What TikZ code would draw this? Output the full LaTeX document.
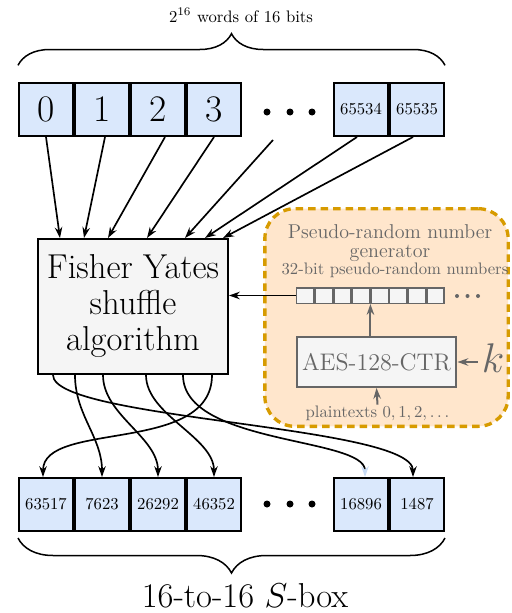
\documentclass[tikz,border=0pt]{standalone}
\usetikzlibrary{positioning,calc,arrows.meta,decorations.pathreplacing}
\definecolor{wordblue}{HTML}{DAE8FC}
\definecolor{tipblue}{HTML}{C8DCF6}
\definecolor{algogray}{HTML}{F5F5F5}
\definecolor{prngfill}{HTML}{FFE6CC}
\definecolor{prngline}{HTML}{D79B00}
\definecolor{prngtext}{HTML}{666666}
\tikzset{
	word/.style={draw,line width=1.2pt,fill=wordblue,minimum width=32.4pt,minimum height=31.8pt,inner sep=0pt},
	bigword/.style={word,font=\fontsize{22.5}{26}\selectfont},
	cell/.style={draw=prngtext,line width=0.9pt,fill=algogray,minimum width=10.3pt,minimum height=9.3pt,inner sep=0pt},
	greytext/.style={text=prngtext,inner sep=0pt},
	curly/.style={line width=0.9pt,decorate,decoration={brace,amplitude=#1}}
}
\begin{document}
\begin{tikzpicture}[x=0.6pt,y=-0.6pt,>={Stealth[length=6.5pt,width=4.5pt]},line width=1pt]
	\useasboundingbox (0,0) rectangle (511,613);
	% generator region
	\node[draw=prngline,fill=prngfill,line width=2pt,dash pattern=on 4.5pt off 3pt,rounded corners=18pt,minimum width=146pt,minimum height=130.6pt] (prng) at (386.5,317.5) {};
	\node[greytext,align=center,font=\fontsize{12}{11}\selectfont] (prngtitle) at (390,243) {Pseudo-random number\\generator};
	\node[greytext,anchor=base] (numlabel) at (395,274) {32-bit pseudo-random numbers};
	\foreach \i in {0,...,7}{\node[cell] (s\i) at (305.3+18.6*\i,295.5) {};}
	\foreach \x in {457,467.5,478}{\fill[prngtext] (\x,296) circle (2);}
	\node[draw=prngtext,line width=1.2pt,fill=algogray,minimum width=95.4pt,minimum height=30pt,text=prngtext,font=\Large] (aes) at (376.5,362) {AES-128-CTR};
	\node[greytext,inner sep=2pt,font=\Huge] (key) at (493,358) {$k$};
	\node[greytext,anchor=base] (ptext) at (377.5,417) {plaintexts $0,1,2,\ldots$};
	\draw[->,prngtext,line width=1.2pt] (aes.north -| s3.south east) -- (s3.south east);
	\draw[->,prngtext,line width=1.2pt] (key.west |- aes.east) -- (aes.east);
	\draw[->,prngtext,line width=1.2pt] (ptext.north) -- (aes.south);
	% input words
	\node[bigword] (b0) at (46,109.5) {0};
	\node[bigword,right=0pt of b0] (b1) {1};
	\node[bigword,right=0pt of b1] (b2) {2};
	\node[bigword,right=0pt of b2] (b3) {3};
	\node[word] (b5) at (417,109.5) {65535};
	\node[word,left=0pt of b5] (b4) {65534};
	\foreach \x in {267,290,312}{\fill (\x,112) circle (3.5);}
	\draw[curly=19pt,decoration={raise=10pt}] (b0.north west) -- (b5.north east);
	\node[anchor=base] (toplabel) at (241,22) {$2^{16}$ words of 16 bits};
	% shuffle
	\node[draw,line width=1.2pt,fill=algogray,minimum width=114pt,minimum height=81pt,align=center,font=\fontsize{20.74}{21.6}\selectfont] (fy) at (133,306.5) {Fisher Yates\\shuffle\\algorithm};
	\foreach \s/\o/\t in {b0/0/-73,b1/3/-49,b2/7/-25,b3/0/14,b4/-4/72,b5/-4/90}{
		\draw[->] ($(\s.south)+(\o,0)$) -- ($(fy.north)+(\t,0)$);
	}
	\coordinate (gap) at (273,140);
	\draw[->] (gap) -- ($(fy.north)+(52,0)$);
	\draw[->] (s0.west) -- (s0.west -| fy.east);
	% output words
	\node[word] (c0) at (46,504.5) {63517};
	\node[word,right=0pt of c0] (c1) {7623};
	\node[word,right=0pt of c1] (c2) {26292};
	\node[word,right=0pt of c2] (c3) {46352};
	\node[word] (c5) at (417,504.5) {1487};
	\node[word,left=0pt of c5] (c4) {16896};
	\foreach \x in {267,290,312}{\fill (\x,504) circle (3.5);}
	\draw[curly=21pt,decoration={raise=3.6pt}] (c5.south east) -- (c0.south west);
	\node[anchor=base,font=\huge] (sbox) at (245,607) {16-to-16 $S$-box};
	\draw[->] ($(fy.south)+(-80,0)$) .. controls +(0,45) and +(0,-52) .. ($(c5.north)+(-4,0)$);
	\draw[->] ($(fy.south)+(-58,0)$) .. controls +(0,40) and +(0,-40) .. (c1.north);
	\draw[->] ($(fy.south)+(-30,0)$) .. controls +(0,40) and +(0,-40) .. (c2.north);
	\draw[->] ($(fy.south)+(13,0)$) .. controls +(0,40) and +(0,-40) .. (c3.north);
	\draw[-{Stealth[length=6.5pt,width=4.5pt,color=tipblue]}] ($(fy.south)+(50,0)$) .. controls +(0,70) and +(0,-40) .. ($(c4.north)+(4,0)$);
	\draw[->] ($(fy.south)+(79,0)$) .. controls +(0,80) and +(0,-57) .. ($(c0.north)+(-3,0)$);
\end{tikzpicture}
\end{document}
